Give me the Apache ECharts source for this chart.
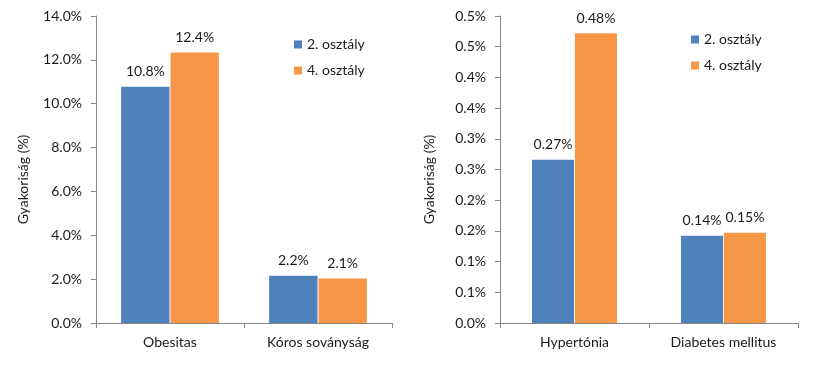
<!DOCTYPE html>
<html>
<head>
<meta charset="utf-8">
<script src="https://cdn.jsdelivr.net/npm/echarts@6/dist/echarts.min.js"></script>
<style>
html,body{margin:0;padding:0;background:#fff;}
#c{width:824px;height:380px;}
</style>
</head>
<body>
<div id="c"></div>
<script>
// Data
var seriesNames = ['2. osztály', '4. osztály'];
var leftCategories = ['Obesitas', 'Kóros soványság'];
var leftGrade2 = [10.77, 2.15];
var leftGrade4 = [12.33, 2.03];
var leftLabels2 = ['10.8%', '2.2%'];
var leftLabels4 = ['12.4%', '2.1%'];
var rightCategories = ['Hypertónia', 'Diabetes mellitus'];
var rightGrade2 = [0.266, 0.142];
var rightGrade4 = [0.472, 0.147];
var rightLabels2 = ['0.27%', '0.14%'];
var rightLabels4 = ['0.48%', '0.15%'];
var yAxisTitle = 'Gyakoriság (%)';

var FONT = 'Lato';
var FS = 14;
var TXT = '#1a1a1a';
var AX = '#868686';
var BLUE = '#4F81BD';
var ORANGE = '#F79646';

function xAx(idx, cats) {
  return {
    type: 'category', gridIndex: idx, data: cats,
    axisLine: {lineStyle: {color: AX}},
    axisTick: {show: true, length: 5, lineStyle: {color: AX}},
    axisLabel: {color: TXT, fontFamily: FONT, fontSize: FS, margin: 12}
  };
}
function yAx(idx, max, interval, fmt, gap) {
  return {
    type: 'value', gridIndex: idx, min: 0, max: max, interval: interval,
    name: yAxisTitle, nameLocation: 'middle', nameGap: gap,
    nameTextStyle: {color: TXT, fontFamily: FONT, fontSize: FS, padding: [0, 20, 0, 0]},
    axisLine: {show: true, lineStyle: {color: AX}},
    axisTick: {show: true, length: 5, lineStyle: {color: AX}},
    splitLine: {show: false},
    axisLabel: {color: TXT, fontFamily: FONT, fontSize: FS, margin: 14, formatter: fmt}
  };
}
function bar(name, xi, data, labels, color, catGap) {
  return {
    type: 'bar', name: name, xAxisIndex: xi, yAxisIndex: xi, data: data,
    barGap: '2%', barCategoryGap: catGap,
    itemStyle: {color: color},
    label: {show: true, position: 'top', distance: 8, color: TXT, fontFamily: FONT, fontSize: FS,
      formatter: function (p) { return labels[p.dataIndex]; }}
  };
}

var chart = echarts.init(document.getElementById('c'), null, {renderer: 'canvas'});
chart.setOption({
  animation: false,
  backgroundColor: '#fff',
  grid: [
    {left: 96, right: 432, top: 16, bottom: 57},
    {left: 500, right: 26, top: 16, bottom: 57}
  ],
  legend: [
    {data: seriesNames, orient: 'vertical', left: 289, top: 31, itemWidth: 8, itemHeight: 8, itemGap: 9,
      icon: 'rect', textStyle: {color: TXT, fontFamily: FONT, fontSize: FS, lineHeight: 17}},
    {data: seriesNames, orient: 'vertical', left: 686, top: 26, itemWidth: 8, itemHeight: 8, itemGap: 9,
      icon: 'rect', textStyle: {color: TXT, fontFamily: FONT, fontSize: FS, lineHeight: 17}}
  ],
  xAxis: [xAx(0, leftCategories), xAx(1, rightCategories)],
  yAxis: [
    yAx(0, 14, 2, function (v) { return v.toFixed(1) + '%'; }, 66),
    yAx(1, 0.5, 0.05, function (v) { return (Math.round(v * 10 + 1e-9) / 10).toFixed(1) + '%'; }, 64)
  ],
  series: [
    bar(seriesNames[0], 0, leftGrade2, leftLabels2, BLUE, '34%'),
    bar(seriesNames[1], 0, leftGrade4, leftLabels4, ORANGE, '34%'),
    bar(seriesNames[0], 1, rightGrade2, rightLabels2, BLUE, '43%'),
    bar(seriesNames[1], 1, rightGrade4, rightLabels4, ORANGE, '43%')
  ]
});
</script>
</body>
</html>
